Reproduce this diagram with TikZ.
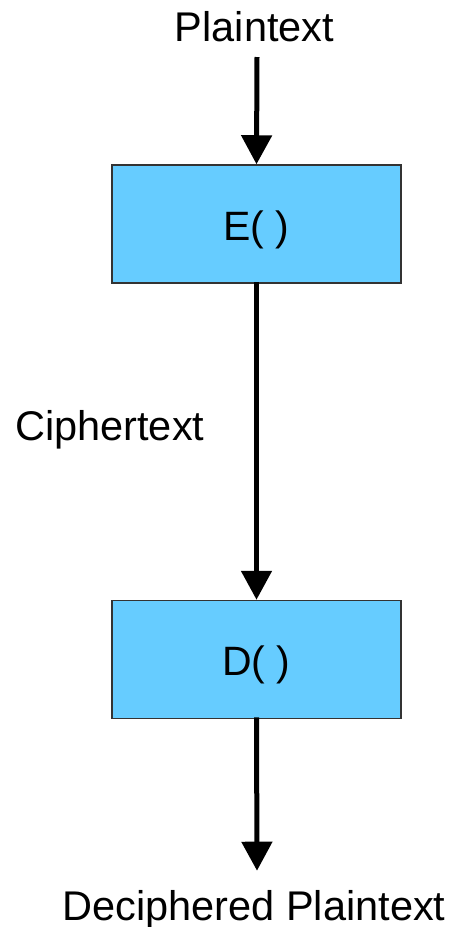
\documentclass[tikz,border=0pt]{standalone}
\usepackage{fontspec}
\setmainfont{Liberation Sans}
\usetikzlibrary{arrows.meta}
\definecolor{boxblue}{HTML}{66CCFF}
\definecolor{boxedge}{HTML}{333333}
\tikzset{
  lbl/.style={inner sep=0pt, font=\fontsize{41.5}{48}\selectfont},
  stage/.style={draw=boxedge, line width=1.5pt, fill=boxblue,
    minimum width=289pt, minimum height=118pt, inner sep=0pt,
    text height=32pt, text depth=0pt, font=\fontsize{41}{48}\selectfont},
  flow/.style={line width=5pt, -{Triangle[length=29pt,width=30pt]}}
}
\begin{document}
\begin{tikzpicture}[x=1pt,y=1pt]
\useasboundingbox (0,0) rectangle (451,-927);
% labels
\node[lbl, anchor=base] (plain) at (254.5,-41.7) {Plaintext};
\node[lbl, anchor=base west] (cipher) at (15,-440) {Ciphertext};
\node[lbl, anchor=base] (deciph) at (254,-920) {Deciphered Plaintext};
% encryption and decryption stages
\node[stage] (enc) at (256.5,-224) {E( )};
\node[stage] (dec) at (256.5,-659.5) {D( )};
% arrow end points
\coordinate (in) at (257,-57);
\coordinate (out) at (257,-870.7);
% flow
\draw[flow] (in) -- (enc.north);
\draw[flow] ([yshift=2pt]enc.south) -- (dec.north);
\draw[flow] ([yshift=2pt]dec.south) -- (out);
\end{tikzpicture}
\end{document}
